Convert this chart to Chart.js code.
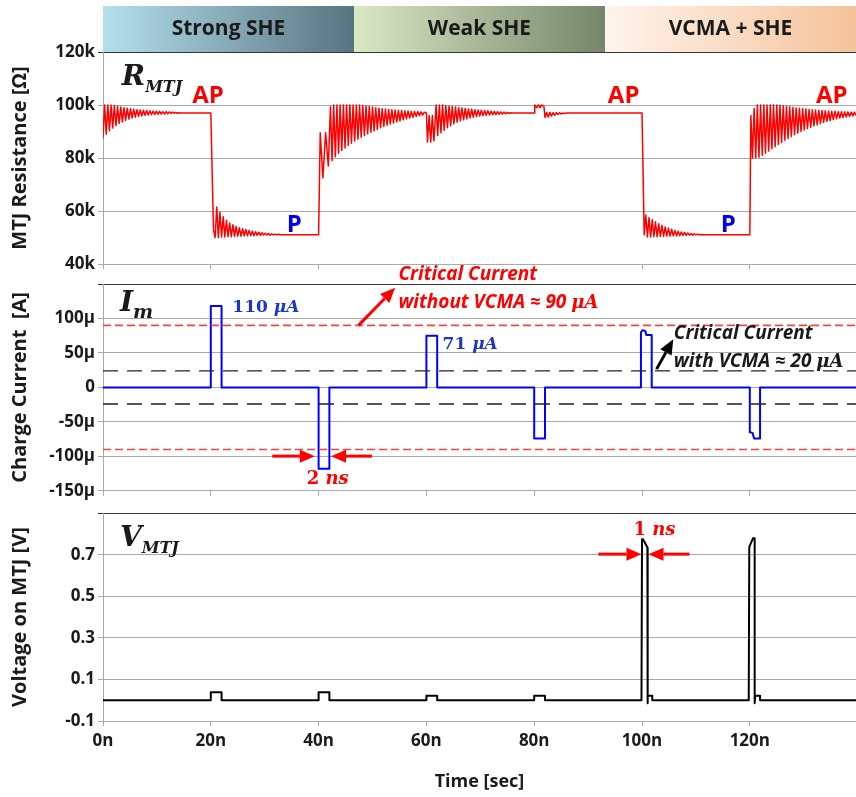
<!DOCTYPE html>
<html>
<head>
<meta charset="utf-8">
<script src="https://cdn.jsdelivr.net/npm/chart.js@4.4.1/dist/chart.umd.min.js"></script>
<style>
  body { margin: 0; background: #fff; }
  #wrap { position: relative; width: 856px; height: 797px; overflow: hidden; }
  canvas { position: absolute; left: 0; }
</style>
</head>
<body>
<div id="wrap">
  <canvas id="c-r" width="856" height="280" style="top:0"></canvas>
  <canvas id="c-i" width="856" height="240" style="top:264px"></canvas>
  <canvas id="c-v" width="856" height="297" style="top:500px"></canvas>
</div>
<script>
// time axis (ns) and the three phases of the banner
const timeMaxNs = 139.7;
const timeTicks = [0, 20, 40, 60, 80, 100, 120];
const phases = ["Strong SHE", "Weak SHE", "VCMA + SHE"];
const phaseColors = [["#b4e0ec", "#587480"], ["#dbe8c6", "#76866a"], ["#fef4ee", "#f5c39a"]];

// y axes: [min, max, step]
const rAxis = [40, 120, 20];      // kOhm
const iAxis = [-150, 150, 50];    // uA
const vAxis = [-0.1, 0.9, 0.2];   // V

// MTJ resistance [t ns, kOhm]
const rStrongAP = [[0,87.5],[0.3,100],[0.6,89],[0.9,100],[1.2,90.3],[1.5,100],[1.8,91.3],[2.1,99.8],[2.4,92.2],[2.7,99.5],[3.0,93],[3.3,99.2],[3.6,93.6],[3.9,99],[4.2,94.2],[4.5,98.8],[4.8,94.7],[5.1,98.6],[5.4,95.1],[5.7,98.4],[6.0,95.4],[6.3,98.2],[6.6,95.7],[6.9,98.1],[7.2,95.9],[7.5,98],[7.8,96.1],[8.1,97.9],[8.4,96.2],[8.7,97.8],[9.0,96.3],[9.3,97.7],[9.6,96.4],[9.9,97.7],[10.2,96.5],[10.5,97.6],[10.8,96.6],[11.1,97.5],[11.4,96.6],[11.7,97.5],[12.0,96.7],[12.3,97.4],[12.6,96.8],[12.9,97.3],[13.2,96.9],[13.5,97.2],[13.8,96.9],[14.1,97.1],[14.4,97],[20,97]];
const rStrongToP = [[20.0,97],[20.5,53],[20.8,50],[21.1,61.5],[21.4,50],[21.7,59.5],[22.0,50.2],[22.3,57.8],[22.6,50.2],[22.9,56.5],[23.2,50.3],[23.5,55.5],[23.8,50.3],[24.1,54.8],[24.4,50.4],[24.7,54.2],[25.0,50.5],[25.3,53.7],[25.6,50.5],[25.9,53.3],[26.2,50.6],[26.5,53],[26.8,50.6],[27.1,52.7],[27.4,50.7],[27.7,52.4],[28.0,50.7],[28.3,52.2],[28.6,50.8],[28.9,52],[29.2,50.8],[29.5,51.8],[29.8,50.9],[30.1,51.6],[30.4,50.9],[30.7,51.5],[31.0,50.9],[31.3,51.4],[31.6,51],[31.9,51.3],[32.2,51],[32.5,51.2],[33,51],[40.0,51]];
const rStrongToAP = [[40.3,89.5],[40.8,72.5],[41.3,89.5],[41.8,77],[42.2,99.3],[42.5,79],[42.8,100],[43.1,80.5],[43.4,100],[43.7,81.8],[44.0,100],[44.3,82.8],[44.6,100],[44.9,83.8],[45.2,100],[45.5,84.7],[45.8,100],[46.1,85.6],[46.4,100],[46.7,86.4],[47.0,100],[47.3,87.1],[47.6,100],[47.9,87.8],[48.2,99.8],[48.5,88.5],[48.8,99.6],[49.1,89.1],[49.4,99.4],[49.7,89.7],[50.0,99.2],[50.3,90.2],[50.6,99.0],[50.9,90.8],[51.2,98.8],[51.5,91.4],[51.8,98.6],[52.1,91.9],[52.4,98.5],[52.7,92.4],[53.0,98.3],[53.3,92.8],[53.6,98.2],[53.9,93.2],[54.2,98.1],[54.5,93.6],[54.8,98.0],[55.1,94.0],[55.4,97.9],[55.7,94.4],[56.0,97.8],[56.3,94.8],[56.6,97.7],[56.9,95.1],[57.2,97.6],[57.5,95.4],[57.8,97.6],[58.1,95.7],[58.4,97.5],[58.7,96.0],[59.0,97.4],[59.3,96.2],[59.6,97.3],[60,97]];
const rWeakDip = [[60.2,86],[60.5,96],[60.8,86],[61.1,96],[61.4,86.5],[61.8,100],[62.1,88.5],[62.4,100],[62.7,89.5],[63.0,100],[63.3,90.5],[63.6,99.8],[63.9,91.4],[64.2,99.6],[64.5,92.2],[64.8,99.4],[65.1,92.9],[65.4,99.2],[65.7,93.5],[66.0,99],[66.3,94],[66.6,98.9],[66.9,94.4],[67.2,98.7],[67.5,94.8],[67.8,98.5],[68.1,95.1],[68.4,98.4],[68.7,95.4],[69.0,98.2],[69.3,95.6],[69.6,98.1],[69.9,95.8],[70.2,98],[70.5,96],[70.8,97.9],[71.1,96.1],[71.4,97.8],[71.7,96.2],[72.0,97.7],[72.3,96.3],[72.6,97.6],[72.9,96.4],[73.2,97.5],[73.5,96.5],[73.8,97.4],[74.1,96.6],[74.4,97.3],[74.7,96.7],[75.0,97.2],[75.3,96.8],[75.6,97.1],[76,97],[80,97]];
const rWeakBump = [[80.1,100],[80.5,99],[80.8,100],[81.1,99],[81.4,100],[81.8,99.5],[82.0,95.3],[82.3,97.2],[82.6,95.5],[82.9,97.2],[83.2,95.8],[83.5,97.1],[83.8,96.1],[84.1,97.1],[84.4,96.4],[84.7,97.1],[85.0,96.6],[85.3,97.0],[85.6,96.8],[86,97],[100,97]];
const rVcmaToP = [[100.4,51],[100.7,58.5],[101.0,50.2],[101.3,57.5],[101.6,50.2],[101.9,56.7],[102.2,50.3],[102.5,55.9],[102.8,50.3],[103.1,55.2],[103.4,50.4],[103.7,54.6],[104.0,50.4],[104.3,54.0],[104.6,50.5],[104.9,53.5],[105.2,50.5],[105.5,53.1],[105.8,50.6],[106.1,52.7],[106.4,50.6],[106.7,52.4],[107.0,50.7],[107.3,52.1],[107.6,50.8],[107.9,51.9],[108.2,50.8],[108.5,51.7],[108.8,50.9],[109.1,51.5],[109.4,50.9],[109.7,51.4],[110.0,51],[110.3,51.3],[110.6,51],[111,51.1],[111.5,51],[120,51]];
const rVcmaToAP = [[120.2,96],[120.5,80],[120.8,98.7],[121.1,80],[121.4,100],[121.7,80.3],[122.0,100],[122.3,81],[122.6,100],[122.9,81.8],[123.2,100],[123.5,82.6],[123.8,100],[124.1,83.5],[124.4,100],[124.7,84.3],[125.0,100],[125.3,85.1],[125.6,99.9],[125.9,85.9],[126.2,99.7],[126.5,86.7],[126.8,99.5],[127.1,87.4],[127.4,99.3],[127.7,88.1],[128.0,99.1],[128.3,88.8],[128.6,98.9],[128.9,89.4],[129.2,98.8],[129.5,90],[129.8,98.6],[130.1,90.6],[130.4,98.5],[130.7,91.1],[131.0,98.3],[131.3,91.6],[131.6,98.2],[131.9,92.1],[132.2,98.1],[132.5,92.5],[132.8,98],[133.1,93],[133.4,97.9],[133.7,93.4],[134.0,97.8],[134.3,93.8],[134.6,97.7],[134.9,94.1],[135.2,97.6],[135.5,94.5],[135.8,97.6],[136.1,94.8],[136.4,97.5],[136.7,95.1],[137.0,97.5],[137.3,95.3],[137.6,97.4],[137.9,95.5],[138.2,97.4],[138.5,95.7],[138.8,97.3],[139.1,95.9],[139.4,97.3],[139.7,96.1]];

// charge current [t ns, uA]
const iCharge = [[0,0],[20,0],[20,118],[22,118],[22,0],[40,0],[40,-118],[42,-118],[42,0],[60,0],[60,75],[62,75],[62,0],[80,0],[80,-74],[82,-74],[82,0],[99.8,0],[99.8,80],[100.1,83],[100.6,82],[100.8,76],[101.8,76],[101.8,0],[120,0],[120,-65],[120.5,-66],[120.8,-74],[121.9,-74],[121.9,0],[139.7,0]];
const critNoVcma = [90, -90];   // uA, red dashed
const critVcma = [24, -24];     // uA, black dashed

// voltage on MTJ [t ns, V]
const vMtj = [[0,0],[20,0],[20,0.038],[22,0.038],[22,0],[40,0],[40,0.038],[42,0.038],[42,0],[60,0],[60,0.022],[62,0.022],[62,0],[80,0],[80,0.022],[82,0.022],[82,0],[99.9,0],[100,0.775],[100.2,0.775],[101,0.735],[101,-0.014],[101.1,0.022],[101.9,0.022],[101.9,0],[119.8,0],[119.9,0.738],[120.6,0.78],[120.9,0.78],[120.9,-0.014],[121,0.022],[121.9,0.022],[121.9,0],[139.7,0]];

const GRID = "#a9a9a9";
const INK = "#1a1a1a";
const SANS = "'Open Sans', 'Noto Sans', sans-serif";
const SERIF = "'DejaVu Serif', serif";
const RED = "#ff0000";

const pts = arr => arr.map(p => ({ x: p[0], y: p[1] }));
const flat = v => [{ x: 0, y: v }, { x: timeMaxNs, y: v }];

function drawParts(ctx, x, y, parts, align) {
    let w = 0;
    parts.forEach(p => { ctx.font = p.font; w += ctx.measureText(p.text).width; });
    let cx = align === "center" ? x - w / 2 : x;
    parts.forEach(p => {
        ctx.font = p.font;
        ctx.fillStyle = p.color;
        ctx.fillText(p.text, cx, y + (p.dy || 0));
        cx += ctx.measureText(p.text).width;
    });
}

function drawArrow(ctx, x1, y1, x2, y2, color) {
    const ang = Math.atan2(y2 - y1, x2 - x1);
    const hl = 15, hw = 6.5;
    ctx.strokeStyle = color;
    ctx.fillStyle = color;
    ctx.lineWidth = 3;
    ctx.beginPath();
    ctx.moveTo(x1, y1);
    ctx.lineTo(x2 - Math.cos(ang) * hl, y2 - Math.sin(ang) * hl);
    ctx.stroke();
    ctx.beginPath();
    ctx.moveTo(x2, y2);
    ctx.lineTo(x2 - Math.cos(ang) * hl - Math.sin(ang) * hw, y2 - Math.sin(ang) * hl + Math.cos(ang) * hw);
    ctx.lineTo(x2 - Math.cos(ang) * hl + Math.sin(ang) * hw, y2 - Math.sin(ang) * hl - Math.cos(ang) * hw);
    ctx.closePath();
    ctx.fill();
}

// labels and arrows, placed in data units of each panel
function notesPlugin(labels, arrows) {
    return {
        id: "notes",
        afterDraw(chart) {
            const { ctx, scales: { x, y } } = chart;
            ctx.save();
            ctx.textBaseline = "alphabetic";
            ctx.textAlign = "left";
            arrows.forEach(a => drawArrow(ctx, x.getPixelForValue(a.from[0]), y.getPixelForValue(a.from[1]),
                x.getPixelForValue(a.to[0]), y.getPixelForValue(a.to[1]), a.color));
            labels.forEach(l => drawParts(ctx, x.getPixelForValue(l.at[0]), y.getPixelForValue(l.at[1]), l.parts, l.align));
            ctx.restore();
        }
    };
}

const bannerPlugin = {
    id: "banner",
    beforeDraw(chart) {
        const { ctx, chartArea: a } = chart;
        const w = (a.right - a.left) / phases.length;
        ctx.save();
        phases.forEach((name, i) => {
            const x0 = a.left + i * w;
            const g = ctx.createLinearGradient(x0, 0, x0 + w, 0);
            g.addColorStop(0, phaseColors[i][0]);
            g.addColorStop(1, phaseColors[i][1]);
            ctx.fillStyle = g;
            ctx.fillRect(x0, 6, w, a.top - 6);
            ctx.fillStyle = INK;
            ctx.font = "bold 21px " + SANS;
            ctx.textAlign = "center";
            ctx.textBaseline = "middle";
            ctx.fillText(name, x0 + w / 2, 29);
        });
        ctx.restore();
    }
};

function panelOptions(o) {
    const tickFont = { family: SANS, size: 17, weight: "bold" };
    const titleFont = { family: SANS, size: 20, weight: "bold" };
    return {
        responsive: false,
        animation: false,
        events: [],
        layout: { padding: { top: o.padTop, right: 0, bottom: 0, left: 0 } },
        plugins: { legend: { display: false }, tooltip: { enabled: false } },
        elements: { point: { radius: 0 }, line: { tension: 0, borderJoinStyle: "round" } },
        scales: {
            x: {
                type: "linear", min: 0, max: timeMaxNs,
                afterBuildTicks: s => { s.ticks = timeTicks.map(v => ({ value: v })); },
                afterFit: s => { s.height = o.xHeight; },
                grid: { drawOnChartArea: false, color: GRID, tickLength: 5 },
                border: { display: false },
                ticks: {
                    display: o.xLabels, padding: 5,
                    color: INK, font: tickFont, maxRotation: 0, autoSkip: false,
                    callback: v => v + "n"
                },
                title: { display: o.xLabels, text: "Time [sec]", color: INK, font: { family: SANS, size: 18, weight: "bold" }, padding: { top: 0, bottom: 4 } }
            },
            y: {
                min: o.axis[0], max: o.axis[1],
                afterFit: s => { s.width = 103; },
                grid: { color: c => (c.tick && c.tick.value === o.axis[1]) ? "#333" : GRID, tickLength: 5 },
                border: { color: GRID },
                ticks: { stepSize: o.axis[2], padding: 3, color: INK, font: tickFont, callback: o.fmt },
                title: { display: true, text: o.title, color: INK, font: titleFont, padding: { top: 8, bottom: 0 } }
            }
        }
    };
}

const mathB = s => "italic bold " + s + "px " + SERIF;
const upB = s => "bold " + s + "px " + SERIF;
const sansB = s => "bold " + s + "px " + SANS;
const sansBI = s => "italic bold " + s + "px " + SANS;
const BLUE_TXT = "#1c36c8";

// --- resistance panel
new Chart(document.getElementById("c-r"), {
    type: "line",
    data: {
        datasets: [{
            data: pts([].concat(rStrongAP, rStrongToP, rStrongToAP, rWeakDip, rWeakBump, rVcmaToP, rVcmaToAP)),
            borderColor: RED, borderWidth: 1.5
        }]
    },
    options: panelOptions({ padTop: 52, xHeight: 16, xLabels: false, axis: rAxis, title: "MTJ Resistance [Ω]", fmt: v => v + "k" }),
    plugins: [bannerPlugin, notesPlugin([
        { at: [3.5, 107.5], parts: [{ text: "R", font: mathB(28), color: INK }, { text: "MTJ", font: mathB(16), color: INK, dy: 7 }] },
        { at: [19.5, 100.6], align: "center", parts: [{ text: "AP", font: sansB(24), color: RED }] },
        { at: [96.6, 100.6], align: "center", parts: [{ text: "AP", font: sansB(24), color: RED }] },
        { at: [135.2, 100.6], align: "center", parts: [{ text: "AP", font: sansB(24), color: RED }] },
        { at: [35.5, 52.2], align: "center", parts: [{ text: "P", font: sansB(24), color: "#0000e6" }] },
        { at: [116, 52.2], align: "center", parts: [{ text: "P", font: sansB(24), color: "#0000e6" }] }
    ], [])]
});

// --- charge current panel
new Chart(document.getElementById("c-i"), {
    type: "line",
    data: {
        datasets: [
            { data: flat(critNoVcma[0]), borderColor: "#ff4040", borderWidth: 1.6, borderDash: [8, 4] },
            { data: flat(critNoVcma[1]), borderColor: "#ff4040", borderWidth: 1.6, borderDash: [8, 4] },
            { data: flat(critVcma[0]), borderColor: "#222", borderWidth: 1.4, borderDash: [15, 9] },
            { data: flat(critVcma[1]), borderColor: "#222", borderWidth: 1.4, borderDash: [15, 9] },
            { data: pts(iCharge), borderColor: "#0000ff", borderWidth: 2 }
        ]
    },
    options: panelOptions({
        padTop: 20, xHeight: 11, xLabels: false, axis: iAxis, title: "Charge Current  [A]",
        fmt: v => v === iAxis[1] ? "" : (v === 0 ? "0" : v + "μ")
    }),
    plugins: [notesPlugin([
        { at: [3.15, 110.8], parts: [{ text: "I", font: mathB(28), color: INK }, { text: "m", font: mathB(19), color: INK, dy: 7 }] },
        { at: [24, 109.8], parts: [{ text: "110 ", font: upB(17), color: BLUE_TXT }, { text: "μA", font: mathB(17), color: BLUE_TXT }] },
        { at: [63, 55.4], parts: [{ text: "71 ", font: upB(17), color: BLUE_TXT }, { text: "μA", font: mathB(17), color: BLUE_TXT }] },
        { at: [54.8, 156.5], parts: [{ text: "Critical Current", font: sansBI(19), color: RED }] },
        { at: [54.8, 115.6], parts: [{ text: "without VCMA ≈ 90 ", font: sansBI(19), color: RED }, { text: "μA", font: mathB(18), color: RED }] },
        { at: [105.9, 70.8], parts: [{ text: "Critical Current", font: sansBI(19), color: INK }] },
        { at: [105.9, 28.9], parts: [{ text: "with VCMA ≈ 20 ", font: sansBI(19), color: INK }, { text: "μA", font: mathB(18), color: INK }] },
        { at: [37.8, -139.7], parts: [{ text: "2 ", font: upB(18), color: RED }, { text: "ns", font: mathB(18), color: RED }] }
    ], [
        { from: [47.4, 90], to: [54.2, 144.5], color: RED },
        { from: [102.7, 26.5], to: [105.8, 69.8], color: "#000" },
        { from: [31.4, -99.7], to: [39.3, -99.7], color: RED },
        { from: [49.9, -99.7], to: [42.3, -99.7], color: RED }
    ])]
});

// --- voltage panel
new Chart(document.getElementById("c-v"), {
    type: "line",
    data: { datasets: [{ data: pts(vMtj), borderColor: "#000", borderWidth: 2 }] },
    options: panelOptions({
        padTop: 11, xHeight: 76, xLabels: true, axis: vAxis, title: "Voltage on MTJ [V]",
        fmt: v => Math.abs(v - vAxis[1]) < 1e-6 ? "" : v.toFixed(1)
    }),
    plugins: [notesPlugin([
        { at: [3.15, 0.743], parts: [{ text: "V", font: mathB(28), color: INK }, { text: "MTJ", font: mathB(16), color: INK, dy: 7 }] },
        { at: [98.4, 0.796], parts: [{ text: "1 ", font: upB(18), color: RED }, { text: "ns", font: mathB(18), color: RED }] }
    ], [
        { from: [91.9, 0.703], to: [99.9, 0.703], color: RED },
        { from: [108.8, 0.703], to: [101.2, 0.703], color: RED }
    ])]
});
</script>
</body>
</html>
